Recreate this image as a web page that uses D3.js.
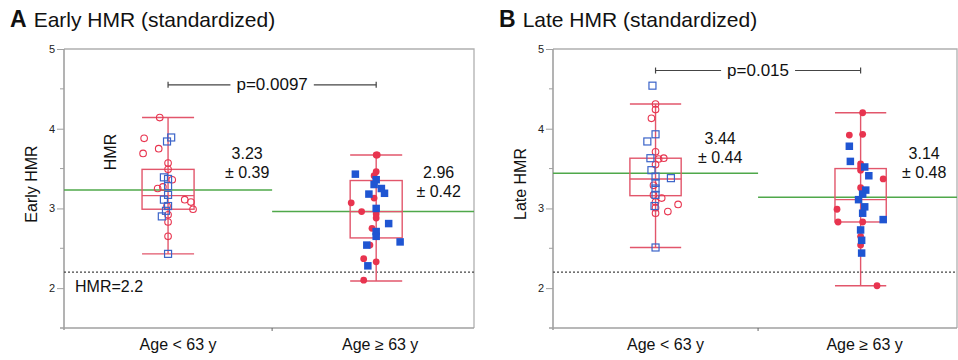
<!DOCTYPE html>
<html>
<head>
<meta charset="utf-8">
<script src="https://cdn.jsdelivr.net/npm/d3@7"></script>
<style>
  body { margin: 0; background: #fff; }
  svg { display: block; font-family: "Liberation Sans", Arial, Helvetica, sans-serif; }
</style>
</head>
<body>
<svg id="chart" width="958" height="360"></svg>
<script>
// categories and axis ticks
const groups = ['Age < 63 y', 'Age \u2265 63 y'];
const majorTicks = [2, 3, 4, 5];
const minorTicks = [2.5, 3.5, 4.5];
const cutoff = 2.2;

// box summaries [young, old]
const earlyLow = [2.43, 2.09];
const earlyQ1 = [2.99, 2.63];
const earlyMedian = [3.16, 2.96];
const earlyQ3 = [3.49, 3.35];
const earlyHigh = [4.14, 3.67];
const earlyMean = [3.23, 2.96];
const earlySd = [0.39, 0.42];
const earlyP = 'p=0.0097';

const lateLow = [2.51, 2.03];
const lateQ1 = [3.16, 2.83];
const lateMedian = [3.37, 3.11];
const lateQ3 = [3.63, 3.50];
const lateHigh = [4.31, 4.20];
const lateMean = [3.44, 3.14];
const lateSd = [0.44, 0.48];
const lateP = 'p=0.015';

// individual points: value and horizontal jitter (in group units)
const earlyYoungRed = [4.14, 3.88, 3.69, 3.75, 3.57, 3.49, 3.36, 3.27, 3.25, 3.11, 3.08, 2.99, 3.03, 2.92, 2.83, 2.65];
const earlyYoungRedJit = [-0.04, -0.115, -0.12, -0.045, 0, 0, 0.02, -0.025, -0.05, 0.08, 0.11, 0.12, -0.005, 0, 0, 0];
const earlyYoungBlue = [3.89, 3.84, 3.39, 3.37, 3.28, 3.17, 3.11, 3.03, 2.97, 2.90, 2.43];
const earlyYoungBlueJit = [0.015, -0.005, -0.02, 0, 0, 0, -0.02, 0, -0.01, -0.03, 0];
const earlyOldRed = [3.67, 3.67, 3.46, 3.41, 3.07, 3.13, 2.96, 2.93, 2.88, 2.75, 2.54, 2.37, 2.33, 2.10];
const earlyOldRedJit = [0, 0.005, 0, -0.01, -0.12, -0.01, -0.07, 0, 0, -0.02, -0.03, -0.06, 0, -0.06];
const earlyOldBlue = [3.43, 3.36, 3.30, 3.25, 3.19, 3.18, 3.00, 2.81, 2.71, 2.65, 2.58, 2.54, 2.28];
const earlyOldBlueJit = [-0.1, 0, -0.01, 0.025, 0.04, -0.035, 0, 0.06, 0, 0, 0.115, -0.045, -0.04];

const lateYoungRed = [4.31, 4.24, 4.13, 3.71, 3.62, 3.63, 3.55, 3.29, 3.17, 3.13, 3.08, 3.05, 3.01, 2.96, 2.94];
const lateYoungRedJit = [0, 0, -0.02, 0, 0.015, 0.04, 0, -0.01, -0.01, 0.03, 0, 0.11, 0, 0.06, 0];
const lateYoungBlue = [4.54, 3.93, 3.84, 3.63, 3.48, 3.38, 3.40, 3.32, 3.25, 3.17, 3.03, 2.51];
const lateYoungBlueJit = [-0.015, 0, -0.04, -0.025, -0.02, 0.075, 0, 0, 0, 0, -0.005, 0];
const lateOldRed = [4.20, 3.92, 3.93, 3.56, 3.52, 3.48, 3.37, 3.26, 2.99, 2.83, 2.83, 2.65, 2.54, 2.03];
const lateOldRedJit = [0.01, -0.055, 0.01, 0, 0, 0, 0.11, 0, -0.115, -0.11, 0.01, 0, 0, 0.08];
const lateOldBlue = [3.78, 3.59, 3.52, 3.41, 3.23, 3.18, 3.11, 3.02, 2.94, 2.86, 2.73, 2.60, 2.44];
const lateOldBlueJit = [-0.055, -0.05, 0.02, 0.04, 0.025, 0.01, -0.01, 0.02, 0.01, 0.11, 0, 0.005, 0.005];

const red = '#e8344f';
const boxRed = '#e2566b';
const blue = '#1f55d2';
const openBlue = '#3b64c9';
const green = '#4fa84a';
const axisGrey = '#a0a0a0';

const svg = d3.select('#chart');
svg.append('rect').attr('width', 958).attr('height', 360).attr('fill', '#fff');

const y = d3.scaleLinear().domain([1.5, 5]).range([328, 49]);

const panels = [
  {
    letter: 'A', title: 'Early HMR (standardized)', yLabel: 'Early HMR',
    left: 64, right: 474,
    low: earlyLow, q1: earlyQ1, med: earlyMedian, q3: earlyQ3, high: earlyHigh,
    mean: earlyMean, sd: earlySd, p: earlyP, pY: 4.55,
    statY: [3.62, 3.38], statDx: [0.38, 0.30],
    pts: [
      [earlyYoungRed, earlyYoungRedJit, 0, 'circle', false],
      [earlyYoungBlue, earlyYoungBlueJit, 0, 'square', false],
      [earlyOldRed, earlyOldRedJit, 1, 'circle', true],
      [earlyOldBlue, earlyOldBlueJit, 1, 'square', true]
    ],
    extras: true
  },
  {
    letter: 'B', title: 'Late HMR (standardized)', yLabel: 'Late HMR',
    left: 553, right: 957,
    low: lateLow, q1: lateQ1, med: lateMedian, q3: lateQ3, high: lateHigh,
    mean: lateMean, sd: lateSd, p: lateP, pY: 4.73,
    statY: [3.81, 3.62], statDx: [0.315, 0.31],
    pts: [
      [lateYoungRed, lateYoungRedJit, 0, 'circle', false],
      [lateYoungBlue, lateYoungBlueJit, 0, 'square', false],
      [lateOldRed, lateOldRedJit, 1, 'circle', true],
      [lateOldBlue, lateOldBlueJit, 1, 'square', true]
    ],
    extras: false
  }
];

panels.forEach(p => {
  const g = svg.append('g');
  const x = d3.scaleLinear().domain([-0.5, 1.47]).range([p.left, p.right]);
  const boxHalf = 0.125;

  // title
  const t = g.append('text').attr('x', p.left - 54).attr('y', 27).attr('fill', '#111');
  t.append('tspan').attr('font-weight', 'bold').attr('font-size', 23).text(p.letter);
  t.append('tspan').attr('dx', 7).attr('font-size', 21).text(p.title);

  // frame top + right
  g.append('path')
    .attr('d', `M${p.left},${y(5)}H${p.right}V${y(1.5)}`)
    .attr('fill', 'none').attr('stroke', '#b0b0b0').attr('stroke-width', 1.3);

  // y axis
  const yAxis = g.append('g').attr('transform', `translate(${p.left},0)`)
    .call(d3.axisLeft(y).tickValues(majorTicks).tickSize(7).tickFormat(d3.format('d')));
  yAxis.select('.domain').remove();
  yAxis.selectAll('.tick line').attr('stroke', axisGrey);
  yAxis.selectAll('.tick text').attr('font-size', 11).attr('fill', '#222').attr('x', -9);
  g.selectAll('.minor').data(minorTicks).join('line')
    .attr('x1', p.left - 4).attr('x2', p.left)
    .attr('y1', d => y(d)).attr('y2', d => y(d))
    .attr('stroke', axisGrey);
  g.append('line').attr('x1', p.left).attr('x2', p.left)
    .attr('y1', y(5)).attr('y2', y(1.5) + 2)
    .attr('stroke', axisGrey).attr('stroke-width', 1.6);

  // x axis
  g.append('line').attr('x1', p.left - 4).attr('x2', p.right)
    .attr('y1', y(1.5)).attr('y2', y(1.5))
    .attr('stroke', axisGrey).attr('stroke-width', 1.6);
  g.append('line').attr('x1', x(0.5)).attr('x2', x(0.5))
    .attr('y1', y(1.5)).attr('y2', y(1.5) + 3)
    .attr('stroke', '#666');
  g.selectAll('.xlab').data(groups).join('text')
    .attr('x', (d, i) => x(i) + (i === 0 ? 10 : 4))
    .attr('y', 350).attr('text-anchor', 'middle')
    .attr('font-size', 16).attr('fill', '#111').text(d => d);

  // y label
  g.append('text')
    .attr('transform', `translate(${p.left - 27},184) rotate(-90)`)
    .attr('text-anchor', 'middle').attr('font-size', 16).attr('fill', '#111')
    .text(p.yLabel);

  // cutoff line
  g.append('line').attr('x1', p.left).attr('x2', p.right)
    .attr('y1', y(cutoff)).attr('y2', y(cutoff))
    .attr('stroke', '#444').attr('stroke-width', 1.2).attr('stroke-dasharray', '2,2');

  // mean lines
  g.selectAll('.mean').data(p.mean).join('line')
    .attr('x1', (d, i) => i === 0 ? p.left : x(0.5))
    .attr('x2', (d, i) => i === 0 ? x(0.5) : p.right)
    .attr('y1', d => y(d)).attr('y2', d => y(d))
    .attr('stroke', green).attr('stroke-width', 1.5);

  // boxes
  [0, 1].forEach(i => {
    const bg = g.append('g').attr('stroke', boxRed).attr('stroke-width', 1.4).attr('fill', 'none');
    bg.append('line').attr('x1', x(i)).attr('x2', x(i)).attr('y1', y(p.low[i])).attr('y2', y(p.high[i]));
    [p.low[i], p.high[i]].forEach(v => {
      bg.append('line').attr('x1', x(i - boxHalf)).attr('x2', x(i + boxHalf))
        .attr('y1', y(v)).attr('y2', y(v));
    });
    bg.append('rect').attr('x', x(i - boxHalf)).attr('width', x(i + boxHalf) - x(i - boxHalf))
      .attr('y', y(p.q3[i])).attr('height', y(p.q1[i]) - y(p.q3[i]));
    bg.append('line').attr('x1', x(i - boxHalf)).attr('x2', x(i + boxHalf))
      .attr('y1', y(p.med[i])).attr('y2', y(p.med[i]));
  });

  // points
  p.pts.forEach(([vals, jit, gi, shape, filled]) => {
    const data = vals.map((v, k) => ({ v, x: gi + jit[k] }));
    if (shape === 'circle') {
      g.append('g').selectAll('circle').data(data).join('circle')
        .attr('cx', d => x(d.x)).attr('cy', d => y(d.v)).attr('r', filled ? 3.4 : 3.3)
        .attr('fill', filled ? red : 'none').attr('stroke', filled ? 'none' : red)
        .attr('stroke-width', 1.1);
    } else {
      const s = filled ? 7.5 : 7;
      g.append('g').selectAll('rect').data(data).join('rect')
        .attr('x', d => x(d.x) - s / 2).attr('y', d => y(d.v) - s / 2)
        .attr('width', s).attr('height', s)
        .attr('fill', filled ? blue : 'none').attr('stroke', filled ? 'none' : openBlue)
        .attr('stroke-width', 1.2);
    }
  });

  // mean +/- sd labels
  [0, 1].forEach(i => {
    const tx = x(i + p.statDx[i]);
    const lab = g.append('text').attr('text-anchor', 'middle').attr('font-size', 16).attr('fill', '#111');
    lab.append('tspan').attr('x', tx).attr('y', y(p.statY[i])).text(p.mean[i].toFixed(2));
    lab.append('tspan').attr('x', tx).attr('dy', 19).text('\u00b1 ' + p.sd[i].toFixed(2));
  });

  // p-value bracket
  const py = y(p.pY);
  const pText = g.append('text').attr('x', x(0.5)).attr('y', py + 5)
    .attr('text-anchor', 'middle').attr('font-size', 17).attr('fill', '#111').text(p.p);
  const tw = pText.node().getComputedTextLength();
  const br = g.append('g').attr('stroke', '#444').attr('stroke-width', 1.2);
  br.append('line').attr('x1', x(0)).attr('x2', x(0.5) - tw / 2 - 6).attr('y1', py).attr('y2', py);
  br.append('line').attr('x1', x(0.5) + tw / 2 + 6).attr('x2', x(1)).attr('y1', py).attr('y2', py);
  [0, 1].forEach(i => {
    br.append('line').attr('x1', x(i)).attr('x2', x(i)).attr('y1', py - 3).attr('y2', py + 3);
  });

  if (p.extras) {
    g.append('text').attr('x', p.left + 11).attr('y', y(cutoff) + 20)
      .attr('font-size', 16).attr('fill', '#111').text('HMR=' + cutoff);
    g.append('text')
      .attr('transform', `translate(${p.left + 52},152) rotate(-90)`)
      .attr('text-anchor', 'middle').attr('font-size', 16).attr('fill', '#111').text('HMR');
  }
});
</script>
</body>
</html>
